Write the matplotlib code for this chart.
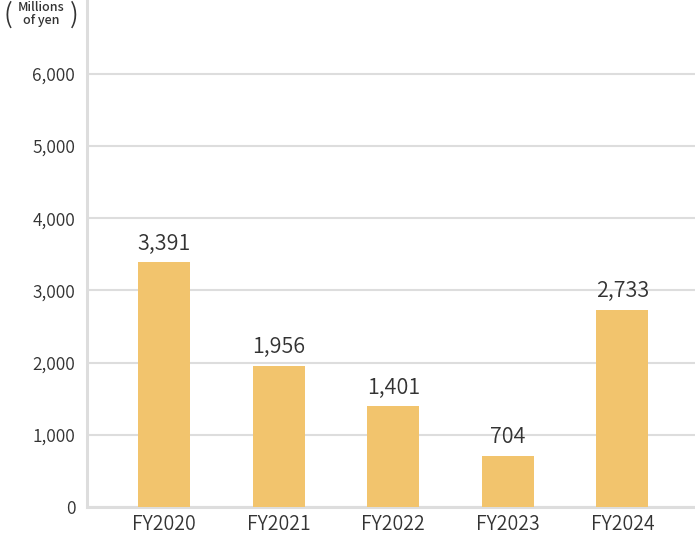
import matplotlib
matplotlib.use("Agg")
import matplotlib.pyplot as plt

categories = ["FY2020", "FY2021", "FY2022", "FY2023", "FY2024"]
values = [3391, 1956, 1401, 704, 2733]
value_labels = ["3,391", "1,956", "1,401", "704", "2,733"]
yticks = [0, 1000, 2000, 3000, 4000, 5000, 6000]
ytick_labels = ["0", "1,000", "2,000", "3,000", "4,000", "5,000", "6,000"]

plt.rcParams['font.family'] = ['Noto Sans CJK JP', 'DejaVu Sans']
plt.rcParams['font.weight'] = 350

fig = plt.figure(figsize=(6.95, 5.35), dpi=100)
ax = fig.add_axes([87/695, (535-507)/535, (695-87)/695, 507/535])

x = list(range(len(categories)))
ax.bar(x, values, width=0.454, color="#F2C46D", zorder=3)
for xi, v, lab in zip(x, values, value_labels):
    ax.annotate(lab, (xi, v), xytext=(0, 6), textcoords="offset points",
                ha="center", va="bottom", fontsize=15.5, color="#333333",
                fontweight=350)

ax.set_xlim(-0.672, 4.633)
ax.set_ylim(0, 7025)
ax.set_yticks(yticks)
ax.set_yticklabels(ytick_labels)
ax.set_xticks(x)
ax.set_xticklabels(categories)
ax.tick_params(axis="both", length=0, colors="#333333")
ax.tick_params(axis="y", pad=8.5, labelsize=12.5)
ax.tick_params(axis="x", pad=5, labelsize=14)
ax.grid(axis="y", color="#dddddd", linewidth=1.5, zorder=0)
for s in ["top", "right"]:
    ax.spines[s].set_visible(False)
for s in ["left", "bottom"]:
    ax.spines[s].set_color("#dddddd")
    ax.spines[s].set_linewidth(2.2)

fig.text(3/695, 1 - 15/535, "(", fontsize=19, color="#333333", ha="left", va="center")
fig.text(70/695, 1 - 15/535, ")", fontsize=19, color="#333333", ha="left", va="center")
fig.text(41/695, 1 - 14/535, "Millions\nof yen", fontsize=9, color="#333333",
         ha="center", va="center", linespacing=1.0, fontweight="medium")

fig.savefig("out.png", dpi=100)
